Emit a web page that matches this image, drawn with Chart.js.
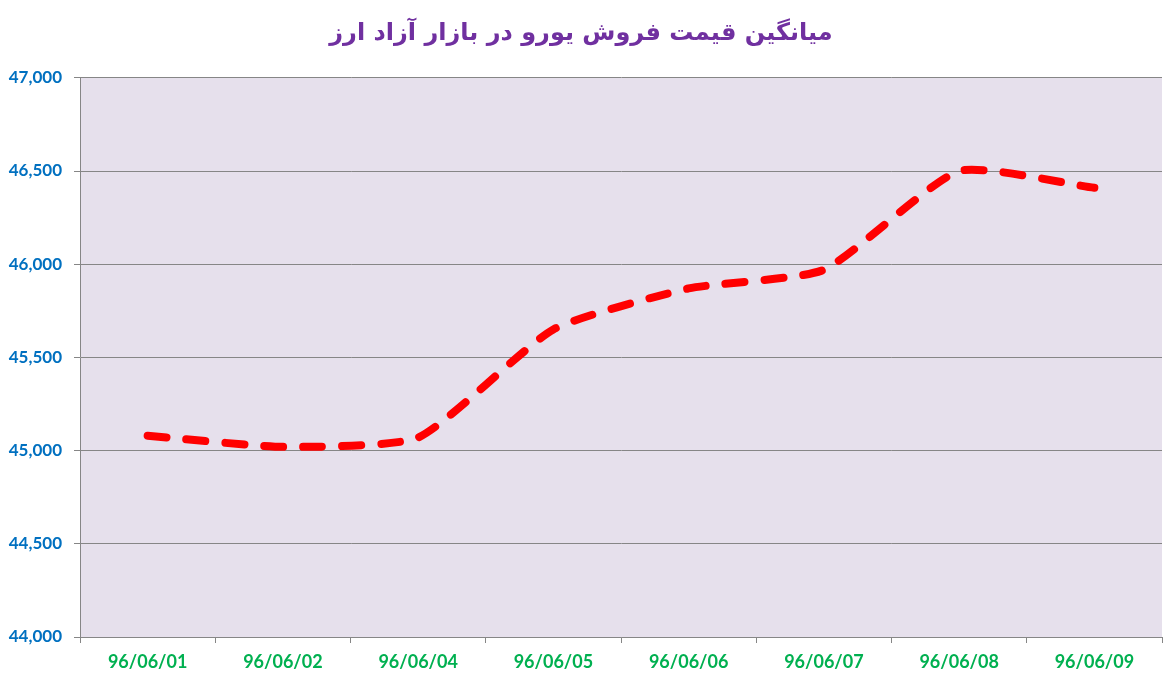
<!DOCTYPE html>
<html>
<head>
<meta charset="utf-8">
<script src="https://cdn.jsdelivr.net/npm/chart.js@4"></script>
<style>
  html, body { margin: 0; padding: 0; background: #fff; }
  #wrap { width: 1171px; height: 681px; }
</style>
</head>
<body>
<div id="wrap"><canvas id="myChart"></canvas></div>
<script>
// chart data
const chartTitle = "میانگین قیمت فروش یورو در بازار آزاد ارز";
const dates = ["96/06/01", "96/06/02", "96/06/04", "96/06/05", "96/06/06", "96/06/07", "96/06/08", "96/06/09"];
const euroPrices = [45080, 45020, 45070, 45650, 45870, 45970, 46500, 46410];
const yMin = 44000;
const yMax = 47000;
const yStep = 500;

// plot area background
const plotBg = {
  id: "plotBg",
  beforeDraw(chart) {
    const { ctx, chartArea: a } = chart;
    ctx.save();
    ctx.fillStyle = "#E6E0EC";
    ctx.fillRect(a.left, a.top, a.right - a.left, a.bottom - a.top);
    ctx.restore();
  },
};

const ctx = document.getElementById("myChart").getContext("2d");
new Chart(ctx, {
  type: "line",
  data: {
    labels: dates,
    datasets: [
      {
        label: "یورو",
        data: euroPrices,
        borderColor: "#FF0000",
        borderWidth: 8,
        borderDash: [19, 20],
        borderCapStyle: "round",
        borderJoinStyle: "round",
        pointRadius: 0,
        tension: 0.18,
        fill: false,
      },
    ],
  },
  options: {
    responsive: true,
    maintainAspectRatio: false,
    animation: false,
    layout: { padding: { top: 0, right: 9, left: 0, bottom: 0 } },
    plugins: {
      legend: { display: false },
      tooltip: { enabled: false },
      title: {
        display: true,
        text: chartTitle,
        color: "#7030A0",
        font: { family: "DejaVu Sans", size: 24, weight: "bold" },
        padding: { top: 19, bottom: 30 },
      },
    },
    scales: {
      x: {
        offset: true,
        grid: {
          offset: true,
          drawOnChartArea: false,
          color: "#868686",
          tickLength: 6,
        },
        border: { color: "#868686", width: 1 },
        ticks: {
          color: "#00B050",
          font: { family: "Lato", size: 18, weight: "bold" },
          padding: 8,
          maxRotation: 0,
        },
        afterFit(scale) {
          scale.height = 44;
        },
      },
      y: {
        min: yMin,
        max: yMax,
        grid: { color: "#868686", lineWidth: 1, tickLength: 6 },
        border: { color: "#868686", width: 1 },
        ticks: {
          stepSize: yStep,
          color: "#0070C0",
          font: { family: "Lato", size: 17, weight: "bold" },
          padding: 12,
          callback: (v) => v.toLocaleString("en-US"),
        },
        afterFit(scale) {
          scale.width = 80;
        },
      },
    },
  },
  plugins: [plotBg],
});
</script>
</body>
</html>
